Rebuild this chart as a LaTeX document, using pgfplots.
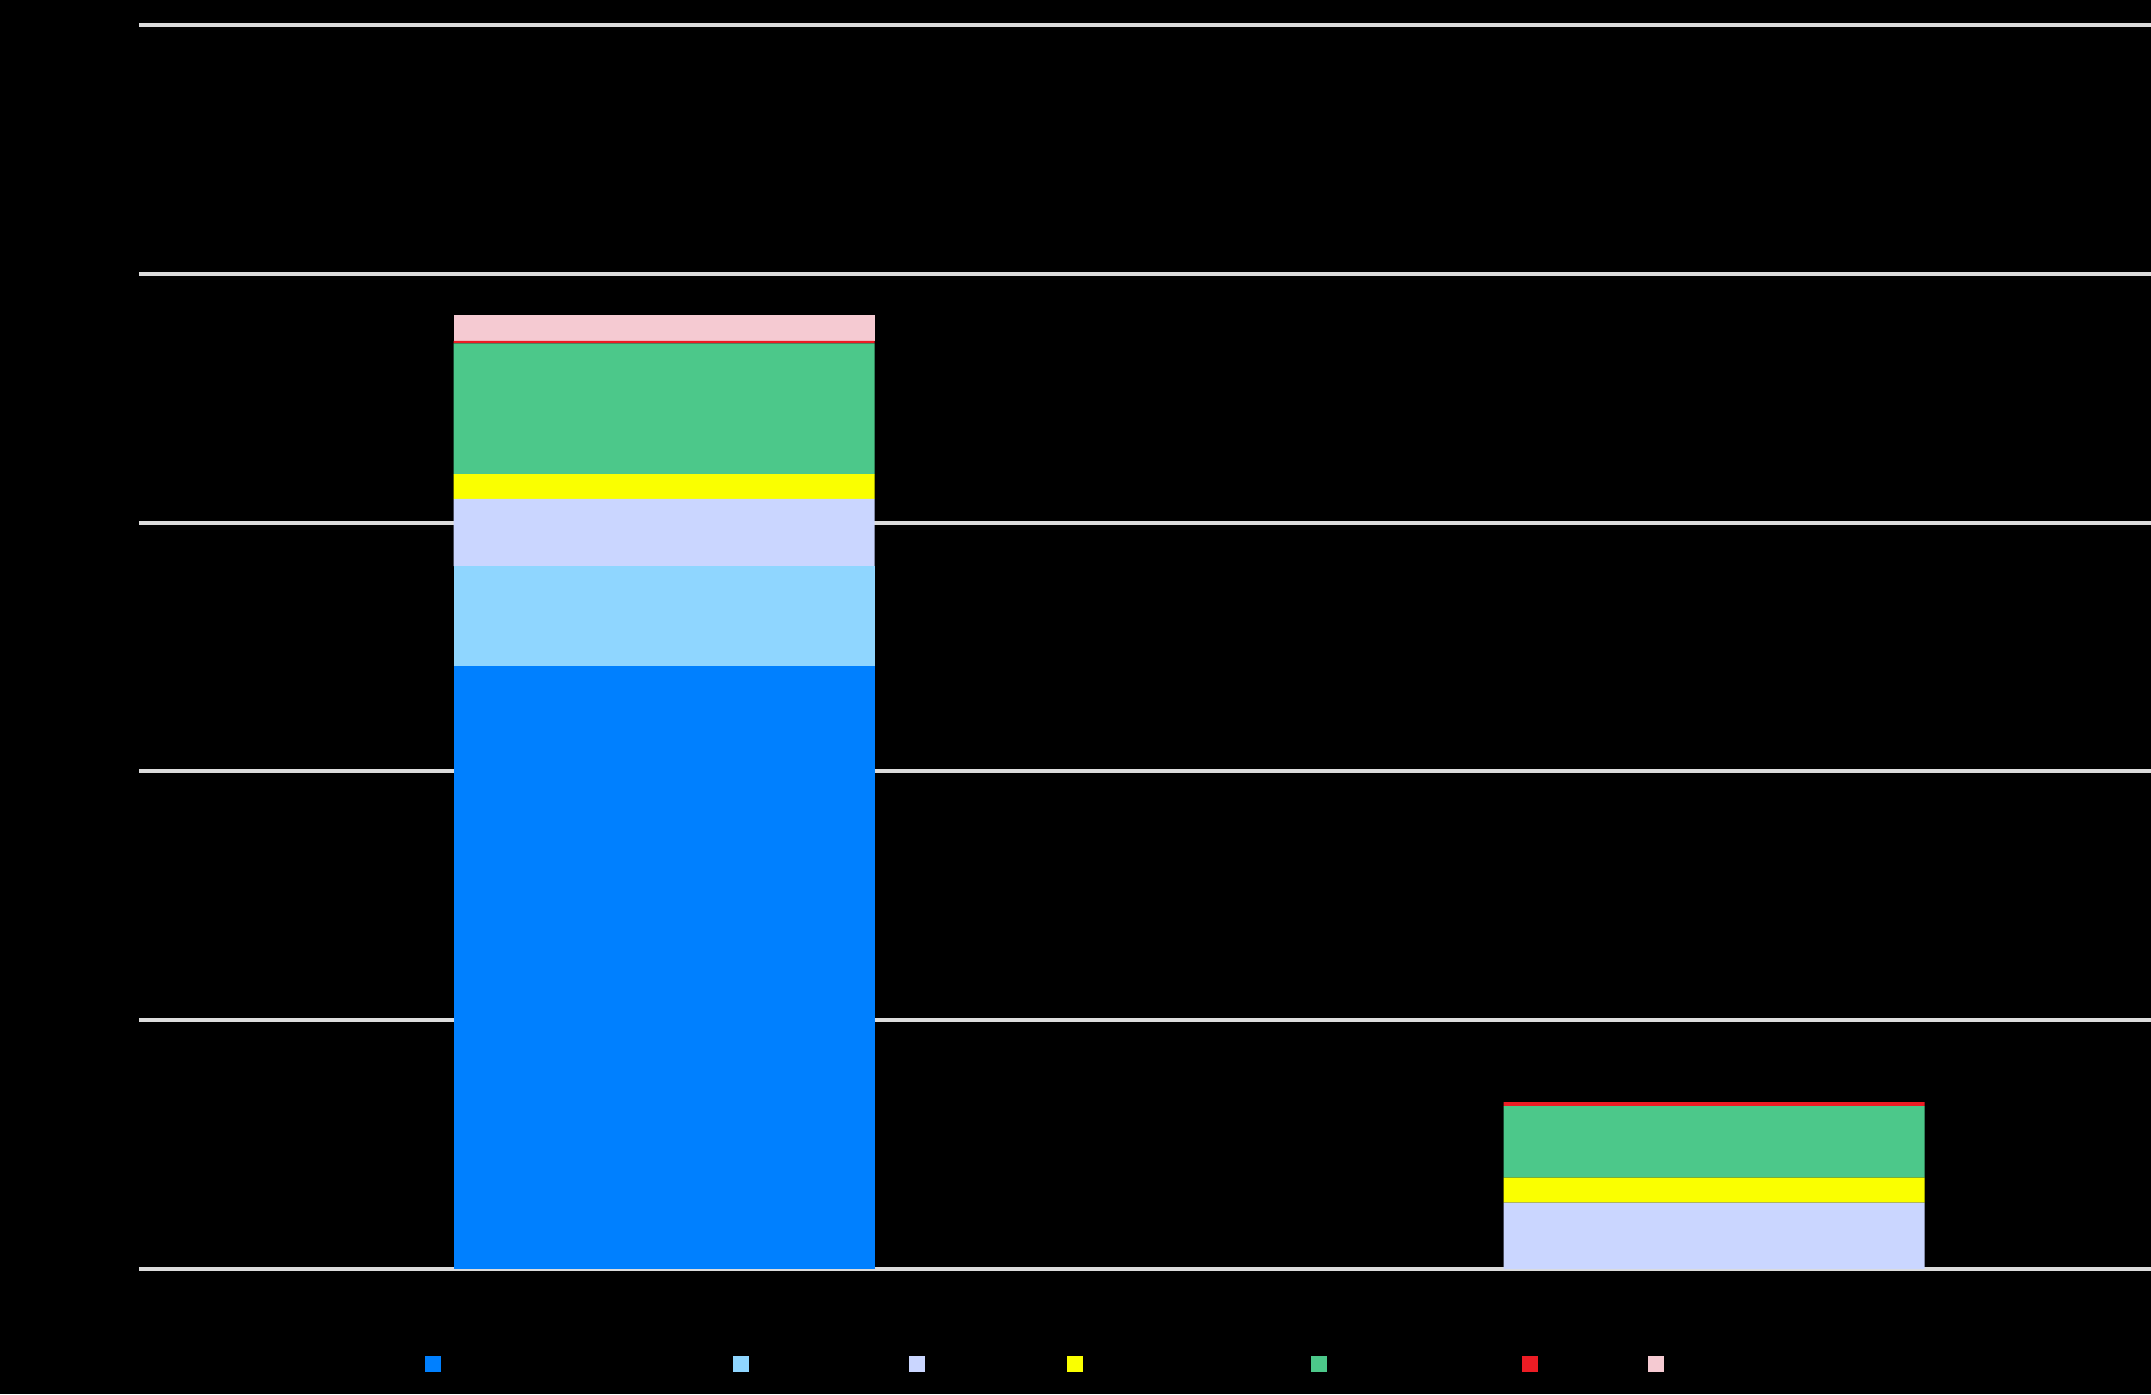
\documentclass[border=0pt]{standalone}
\usepackage{pgfplots}
\pgfplotsset{compat=1.18}
\definecolor{cBlue}{RGB}{0,128,255}
\definecolor{cLBlue}{RGB}{143,214,255}
\definecolor{cLav}{RGB}{202,214,255}
\definecolor{cYel}{RGB}{250,255,0}
\definecolor{cGreen}{RGB}{76,200,138}
\definecolor{cRed}{RGB}{237,28,36}
\definecolor{cPink}{RGB}{245,202,210}
\definecolor{cGrid}{RGB}{220,220,220}
\begin{document}
\begin{tikzpicture}
\fill[black] (-34.75pt,-31.2pt) rectangle (503pt,317.3pt);
\path[use as bounding box] (-34.75pt,-31.2pt) rectangle (503pt,317.3pt);
\begin{axis}[
  scale only axis,
  width=503pt, height=311.1pt,
  ybar stacked,
  bar width=0.401,
  xmin=-0.5, xmax=1.416,
  ymin=0, ymax=100,
  ytick={0,20,40,60,80,100},
  yticklabels={},
  xtick={0,1},
  xticklabels={},
  axis line style={draw=none},
  major tick length=0pt,
  ymajorgrids,
  grid style={cGrid, line width=1pt},
  clip=false,
  legend columns=-1,
  legend style={at={(0.1420,-0.0696)}, anchor=north west, draw=none, fill=none,
    inner sep=0pt, outer sep=0pt, column sep=0pt,
    nodes={inner sep=0pt, outer sep=0pt}},
  legend image code/.code={\fill[#1] (0pt,-2pt) rectangle (4pt,2pt);},
]
\addplot[fill=cBlue, draw=none] coordinates {(0,48.5) (1,0)};
\addplot[fill=cLBlue, draw=none] coordinates {(0,8.0) (1,0)};
\addplot[fill=cLav, draw=none] coordinates {(0,5.4) (1,5.35)};
\addplot[fill=cYel, draw=none] coordinates {(0,2.0) (1,2.0)};
\addplot[fill=cGreen, draw=none] coordinates {(0,10.5) (1,5.75)};
\addplot[fill=cRed, draw=none] coordinates {(0,0.2) (1,0.32)};
\addplot[fill=cPink, draw=none] coordinates {(0,2.1) (1,0)};
\legend{\rule{73.1pt}{0pt},\rule{40pt}{0pt},\rule{35.4pt}{0pt},\rule{57.1pt}{0pt},\rule{48.75pt}{0pt},\rule{27.5pt}{0pt},\rule{20pt}{0pt}}
\end{axis}
\end{tikzpicture}
\end{document}
